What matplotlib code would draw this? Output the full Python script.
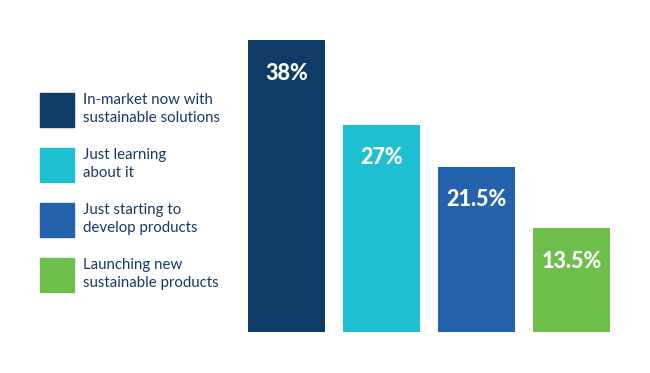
import matplotlib
matplotlib.use("Agg")
import matplotlib.pyplot as plt
from matplotlib.patches import Rectangle

categories = ["In-market now with\nsustainable solutions",
              "Just learning\nabout it",
              "Just starting to\ndevelop products",
              "Launching new\nsustainable products"]
values = [38, 27, 21.5, 13.5]
value_labels = ["38%", "27%", "21.5%", "13.5%"]
colors = ["#0f3c66", "#1fbfd2", "#2462ae", "#6dbe4b"]
text_color = "#173a63"

W, H = 650, 373
fig = plt.figure(figsize=(W / 100, H / 100), dpi=100)
fig.patch.set_facecolor("white")

ax = fig.add_axes([0, 0, 1, 1])
spacing = 95.0
c0 = 286.5
ppu = 7.68
base = 332
ax.set_xlim(-c0 / spacing, (W - c0) / spacing)
ax.set_ylim(-(H - base) / ppu, base / ppu)
ax.axis("off")

xs = list(range(len(values)))
ax.bar(xs, values, width=77 / spacing, color=colors, align="center")
for x, v, lab in zip(xs, values, value_labels):
    ax.text(x, v - 33 / ppu, lab, ha="center", va="center", color="white",
            fontsize=15.5, fontweight="black", family="Lato")

# legend
for i, (cat, col) in enumerate(zip(categories, colors)):
    top = 93 + i * 55
    fig.add_artist(Rectangle((40 / W, 1 - (top + 34) / H), 34 / W, 34 / H,
                             transform=fig.transFigure, color=col))
    fig.text(83 / W, 1 - (top + 16) / H, cat, ha="left", va="center",
             color=text_color, fontsize=10.8, family="Lato", linespacing=1.4)

fig.savefig("out.png", dpi=100)
